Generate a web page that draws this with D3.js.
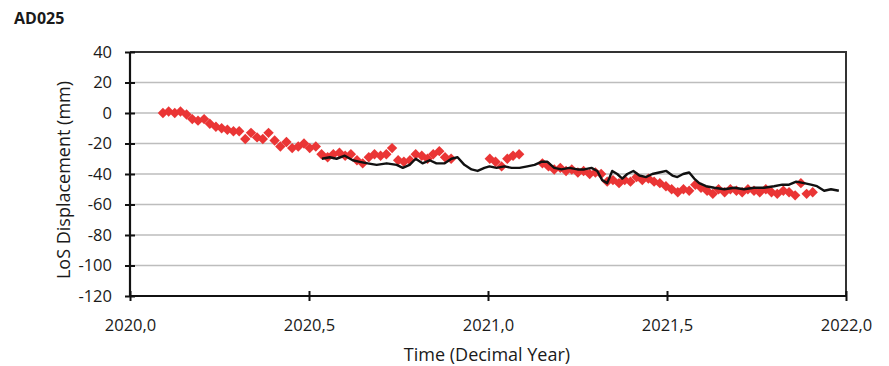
<!DOCTYPE html>
<html><head><meta charset="utf-8">
<script src="https://cdn.jsdelivr.net/npm/d3@7"></script>
<style>body{margin:0;background:#fff}svg{display:block}text{font-family:"Open Sans",sans-serif;fill:#1a1a1a}</style>
</head><body><svg id="c" width="889" height="366"></svg>
<script>
const title = "AD025";
const xTicks = [2020.0, 2020.5, 2021.0, 2021.5, 2022.0];
const yTicks = [40, 20, 0, -20, -40, -60, -80, -100, -120];
const redYears = [2020.092,2020.108,2020.125,2020.141,2020.158,2020.174,2020.190,2020.207,2020.223,2020.240,2020.256,2020.272,2020.289,2020.305,2020.322,2020.338,2020.355,2020.371,2020.387,2020.404,2020.420,2020.437,2020.453,2020.470,2020.486,2020.502,2020.519,2020.535,2020.552,2020.568,2020.585,2020.601,2020.617,2020.634,2020.650,2020.667,2020.683,2020.700,2020.716,2020.732,2020.749,2020.765,2020.782,2020.798,2020.815,2020.831,2020.847,2020.864,2020.880,2020.897,
 2021.005,2021.021,2021.038,2021.054,2021.070,2021.087,
 2021.152,2021.169,2021.185,2021.202,2021.218,2021.234,2021.251,2021.267,2021.284,2021.300,2021.316,2021.333,2021.349,2021.366,2021.382,2021.398,2021.415,2021.431,2021.448,2021.464,2021.480,2021.497,2021.513,2021.530,2021.546,2021.562,2021.579,2021.595,2021.612,2021.628,2021.644,2021.661,2021.677,2021.694,2021.710,2021.726,2021.743,2021.759,2021.776,2021.792,2021.808,2021.825,2021.841,2021.858,2021.874,2021.890,2021.907];
const redValues = [0,1,0,1,-1,-4,-5,-4,-7,-9,-10,-11,-12,-12,-17,-13,-16,-17,-13,-18,-22,-19,-23,-22,-20,-23,-22,-27,-29,-27,-26,-28,-27,-31,-33,-29,-27,-28,-27,-23,-31,-32,-31,-27,-28,-30,-27,-25,-29,-30,
 -30,-32,-35,-30,-28,-27,
 -33,-35,-37,-36,-38,-37,-39,-38,-40,-39,-40,-45,-44,-46,-44,-45,-42,-44,-43,-45,-46,-48,-50,-52,-50,-51,-47,-49,-51,-53,-50,-52,-50,-51,-52,-50,-51,-52,-50,-52,-53,-51,-52,-54,-46,-53,-52];
const lineYears = [2020.536,2020.558,2020.577,2020.600,2020.622,2020.642,2020.664,2020.689,2020.717,2020.745,2020.762,2020.781,2020.798,2020.817,2020.837,2020.856,2020.879,2020.898,2020.915,2020.934,2020.954,2020.971,2020.990,2021.004,2021.024,2021.046,2021.066,2021.088,2021.110,2021.130,2021.149,2021.166,2021.185,2021.205,2021.227,2021.250,2021.269,2021.289,2021.305,2021.319,2021.333,2021.347,2021.361,2021.375,2021.389,2021.406,2021.423,2021.442,2021.459,2021.478,2021.498,2021.515,2021.529,2021.545,2021.562,2021.576,2021.590,2021.609,2021.632,2021.660,2021.688,2021.715,2021.743,2021.771,2021.799,2021.822,2021.841,2021.861,2021.883,2021.902,2021.919,2021.939,2021.958,2021.980];
const lineValues = [-30,-29,-30,-28,-31,-32,-33,-34,-33,-34,-36,-34,-30,-33,-31,-33,-33,-30,-29,-34,-37,-38,-36,-35,-36,-35,-36,-36,-35,-34,-32,-32,-36,-37,-36,-37,-37,-36,-38,-44,-46,-38,-40,-43,-40,-38,-41,-42,-40,-39,-38,-41,-42,-40,-39,-43,-46,-48,-49,-50,-49,-50,-49,-49,-48,-47,-47,-45,-46,-47,-48,-51,-50,-51];

const svg = d3.select("#c");
const L = 130, R = 846, T = 52, B = 296;
const x = d3.scaleLinear().domain([2020, 2022]).range([L, R]);
const y = d3.scaleLinear().domain([-120, 40]).range([B, T]);
const fmtX = v => d3.format(".1f")(v).replace(".", ",");
const fmtY = v => String(v);

svg.append("text").attr("x", 14).attr("y", 24).attr("font-size", 16).attr("font-weight", "bold").text(title);

// gridlines
svg.append("g").selectAll("line").data(yTicks).join("line")
  .attr("x1", L).attr("x2", R).attr("y1", d => y(d)).attr("y2", d => y(d))
  .attr("stroke", "#bdbdbd").attr("stroke-width", 1.5);

// top/right border
svg.append("path").attr("d", `M${L},${T}H${R}V${B}`).attr("fill", "none").attr("stroke", "#333").attr("stroke-width", 2);

// axes
const yAxis = svg.append("g").attr("transform", `translate(${L},0)`)
  .call(d3.axisLeft(y).tickValues(yTicks).tickSize(5).tickPadding(13).tickFormat(fmtY));
const xAxis = svg.append("g").attr("transform", `translate(0,${B})`)
  .call(d3.axisBottom(x).tickValues(xTicks).tickSize(5).tickPadding(18).tickFormat(fmtX));
[yAxis, xAxis].forEach(g => {
  g.select(".domain").attr("stroke", "#111").attr("stroke-width", 2.2);
  g.selectAll(".tick line").attr("stroke", "#111").attr("stroke-width", 2);
  g.selectAll(".tick text").attr("font-size", 16.5).attr("font-family", "'Open Sans',sans-serif").attr("fill", "#1a1a1a");
});
yAxis.selectAll(".tick line").attr("x1", 5);
xAxis.selectAll(".tick line").attr("y1", -5);
yAxis.select(".domain").attr("d", `M0,${T}V${B}`);
xAxis.select(".domain").attr("d", `M${L},0H${R}`);

// red diamonds
const pts = redYears.map((d, i) => [d, redValues[i]]);
const s = 5.2;
svg.append("g").selectAll("path").data(pts).join("path")
  .attr("d", d => `M${x(d[0])},${y(d[1]) - s}L${x(d[0]) + s},${y(d[1])}L${x(d[0])},${y(d[1]) + s}L${x(d[0]) - s},${y(d[1])}Z`)
  .attr("fill", "#ea3535");

// black line
const lp = lineYears.map((d, i) => [d, lineValues[i]]);
svg.append("path").datum(lp)
  .attr("d", d3.line().x(d => x(d[0])).y(d => y(d[1])))
  .attr("fill", "none").attr("stroke", "#111").attr("stroke-width", 2.4).attr("stroke-linejoin", "round");

// axis titles
svg.append("text").attr("transform", `translate(70,${(T + B) / 2 + 6}) rotate(-90)`)
  .attr("text-anchor", "middle").attr("font-size", 18).text("LoS Displacement (mm)");
svg.append("text").attr("x", 487).attr("y", 361).attr("text-anchor", "middle").attr("font-size", 18).text("Time (Decimal Year)");
</script></body></html>
